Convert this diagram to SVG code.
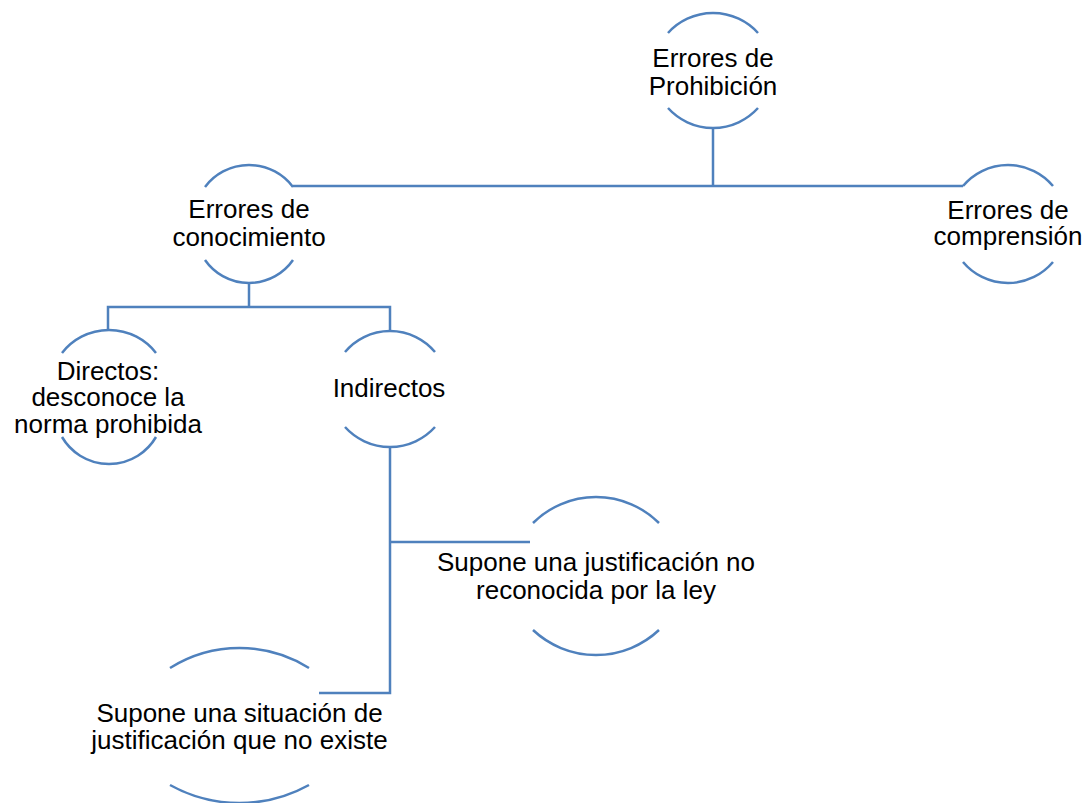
<svg xmlns="http://www.w3.org/2000/svg" width="1091" height="803" viewBox="0 0 1091 803">
<style>
.arc{fill:none;stroke:#4f81bd;stroke-width:2.5}
.con{fill:none;stroke:#4f81bd;stroke-width:2.5}
text{font-family:"Liberation Sans",Arial,sans-serif;font-size:26px;fill:#000;text-anchor:middle}
</style>
<rect width="1091" height="803" fill="#fff"/>
<g id="connectors">
<path class="con" d="M713,128 V186"/>
<path class="con" d="M293,186 H963"/>
<path class="con" d="M249,283 V307"/>
<path class="con" d="M108,330 V307 H390 V331"/>
<path class="con" d="M390,447 V693 H319"/>
<path class="con" d="M390,542 H530"/>
</g>
<g id="n1">
<path class="arc" d="M668,33 A60.6,60.6 0 0 1 758,33"/>
<path class="arc" d="M668,108 A60.6,60.6 0 0 0 758,108"/>
<text x="713" y="67">Errores de</text>
<text x="713" y="95">Prohibición</text>
</g>
<g id="n2">
<path class="arc" d="M205,187 A55,55 0 0 1 293,187"/>
<path class="arc" d="M205,260 A53.6,53.6 0 0 0 293,260"/>
<text x="249" y="218">Errores de</text>
<text x="249" y="246">conocimiento</text>
</g>
<g id="n3">
<path class="arc" d="M963,186 A58.7,58.7 0 0 1 1053,186"/>
<path class="arc" d="M963,262 A58.7,58.7 0 0 0 1053,262"/>
<text x="1008" y="219">Errores de</text>
<text x="1008" y="245">comprensión</text>
</g>
<g id="n4">
<path class="arc" d="M62,353 A59.5,59.5 0 0 1 156,353"/>
<path class="arc" d="M62,437 A54.4,54.4 0 0 0 156,437"/>
<text x="108" y="380">Directos:</text>
<text x="108" y="406">desconoce la</text>
<text x="108" y="433">norma prohibida</text>
</g>
<g id="n5">
<path class="arc" d="M345,352 A58.7,58.7 0 0 1 435,352"/>
<path class="arc" d="M345,427 A60.6,60.6 0 0 0 435,427"/>
<text x="389" y="397">Indirectos</text>
</g>
<g id="n6">
<path class="arc" d="M533,523 A89.3,89.3 0 0 1 659,523"/>
<path class="arc" d="M533,630 A91.9,91.9 0 0 0 659,630"/>
<text x="596" y="571">Supone una justificación no</text>
<text x="596" y="599">reconocida por la ley</text>
</g>
<g id="n7">
<path class="arc" d="M170,668 A130.8,130.8 0 0 1 309,668"/>
<path class="arc" d="M170,785 A143,143 0 0 0 309,785"/>
<text x="239.5" y="722">Supone una situación de</text>
<text x="239.5" y="749">justificación que no existe</text>
</g>
</svg>
